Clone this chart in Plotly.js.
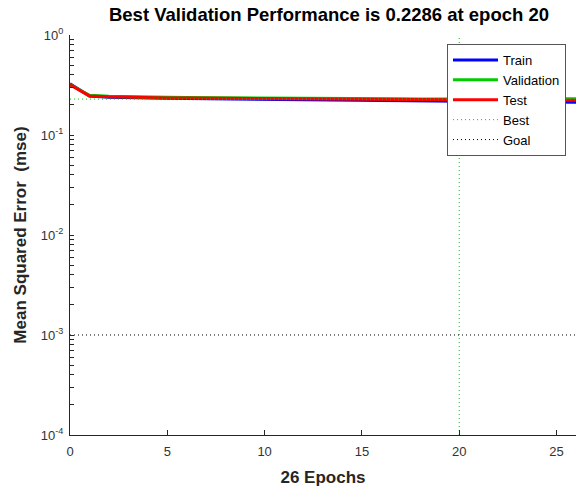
<!DOCTYPE html>
<html><head><meta charset="utf-8">
<script src="https://cdn.plot.ly/plotly-3.0.1.min.js"></script>
<style>html,body{margin:0;padding:0;background:#fff}#c{width:576px;height:491px}</style>
</head><body><div id="c"></div>
<script>
const epochs = [0,1,2,3,4,5,6,7,8,9,10,11,12,13,14,15,16,17,18,19,20,21,22,23,24,25,26];
const trainPerf = [0.325,0.245,0.239,0.236,0.234,0.233,0.232,0.231,0.230,0.229,0.228,0.227,0.226,0.225,0.224,0.223,0.222,0.221,0.220,0.219,0.218,0.217,0.216,0.215,0.214,0.213,0.212];
const valPerf = [0.320,0.250,0.244,0.241,0.239,0.238,0.237,0.236,0.235,0.234,0.234,0.233,0.233,0.232,0.232,0.231,0.231,0.230,0.2295,0.229,0.2286,0.2288,0.229,0.2292,0.2295,0.2298,0.230];
const testPerf = [0.318,0.246,0.241,0.238,0.236,0.235,0.234,0.233,0.232,0.231,0.231,0.230,0.230,0.229,0.229,0.228,0.228,0.227,0.227,0.226,0.226,0.225,0.225,0.224,0.224,0.223,0.223];
const bestEpoch = 20;
const bestPerf = 0.2286;
const goal = 0.001;
const yMajorExps = [-4,-3,-2,-1,0];
const yMinorMult = [2,3,4,5,6,7,8,9];
const xTickVals = [0,5,10,15,20,25];

// tick positions (majors labelled, minors blank)
const yTickVals = [], yTickText = [];
yMajorExps.forEach(e => {
  yTickVals.push(Math.pow(10, e)); yTickText.push('10<sup>' + e + '</sup>');
  if (e < 0) yMinorMult.forEach(m => { yTickVals.push(m * Math.pow(10, e)); yTickText.push(''); });
});

const traces = [
  {x: epochs, y: trainPerf, name: 'Train', mode: 'lines', line: {color: '#0000ff', width: 3}},
  {x: epochs, y: valPerf, name: 'Validation', mode: 'lines', line: {color: '#00cc00', width: 3}},
  {x: epochs, y: testPerf, name: 'Test', mode: 'lines', line: {color: '#ff0000', width: 3}},
  {x: [0, 26, null, bestEpoch, bestEpoch], y: [bestPerf, bestPerf, null, 1e-4, 1], name: 'Best', mode: 'lines', line: {color: '#00cc00', width: 1, dash: '1px,3px'}},
  {x: [0, 26], y: [goal, goal], name: 'Goal', mode: 'lines', line: {color: '#000000', width: 1, dash: '1px,3px'}}
];

const layout = {
  width: 576, height: 491,
  margin: {l: 70, r: 0, t: 35, b: 56},
  paper_bgcolor: '#fff', plot_bgcolor: '#fff',
  font: {family: 'Liberation Sans, Arial, sans-serif', size: 13, color: '#333'},
  title: {text: '<b>Best Validation Performance is 0.2286 at epoch 20</b>', font: {size: 18.5, color: '#000'}, x: 329/576, xanchor: 'center', y: 0.97, yanchor: 'middle'},
  xaxis: {
    range: [0, 26], tickvals: xTickVals, ticks: 'inside', ticklen: 5, tickcolor: '#262626',
    showline: true, linecolor: '#262626', linewidth: 1, showgrid: false, zeroline: false,
    tickfont: {size: 13, color: '#333'}, ticklabelstandoff: 4,
    title: {text: '<b>26 Epochs</b>', font: {size: 17, color: '#262626'}, standoff: 13}
  },
  yaxis: {
    type: 'log', range: [-4, 0], tickvals: yTickVals, ticktext: yTickText,
    ticks: 'inside', ticklen: 4, tickcolor: '#262626',
    showline: true, linecolor: '#262626', linewidth: 1, showgrid: false, zeroline: false,
    tickfont: {size: 13, color: '#333'}, ticklabelstandoff: 3,
    title: {text: '<b>Mean Squared Error  (mse)</b>', font: {size: 17, color: '#262626'}, standoff: 9}
  },
  showlegend: true,
  legend: {x: (447-70)/506, y: (435-44)/400, xanchor: 'left', yanchor: 'top', bgcolor: '#fff', bordercolor: '#555', borderwidth: 1,
    font: {size: 13, color: '#000'}, tracegroupgap: 0, itemwidth: 45}
};
Plotly.newPlot('c', traces, layout, {displayModeBar: false, staticPlot: true});
</script></body></html>
